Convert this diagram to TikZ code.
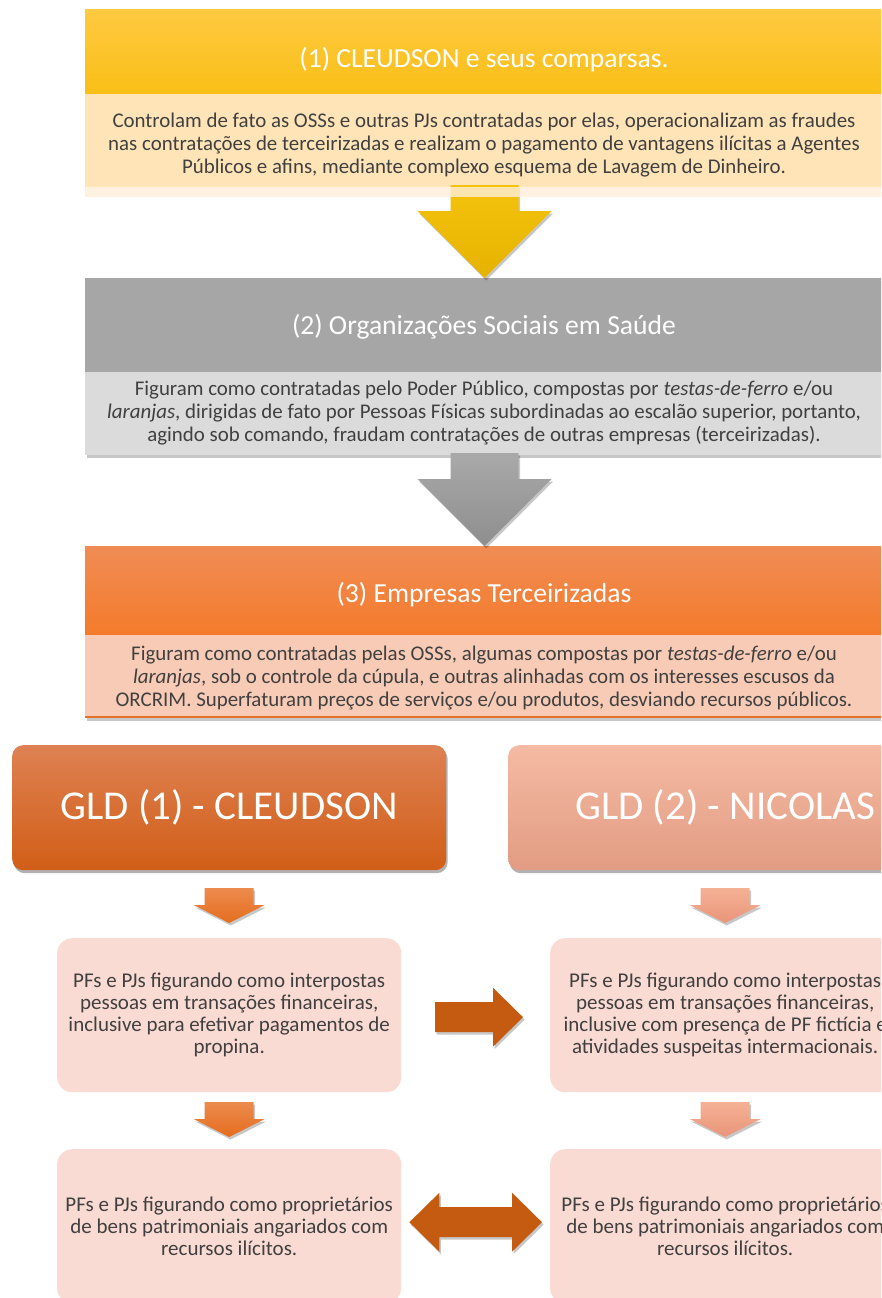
\documentclass[tikz,border=0pt]{standalone}
\usepackage{fontspec}
\setmainfont{Carlito}
\usetikzlibrary{calc,shadows}
\definecolor{hdrAtop}{HTML}{FFC940}
\definecolor{hdrAbot}{HTML}{F9BF17}
\definecolor{bodyA}{HTML}{FFE4B7}
\definecolor{reflA}{HTML}{FFEED8}
\definecolor{arrAtop}{HTML}{F4C30C}
\definecolor{arrAbot}{HTML}{E6B200}
\definecolor{hdrB}{HTML}{A6A6A6}
\definecolor{bodyB}{HTML}{DBDBDB}
\definecolor{arrBtop}{HTML}{A9A9A9}
\definecolor{arrBbot}{HTML}{8E8E8E}
\definecolor{hdrCtop}{HTML}{F08C55}
\definecolor{hdrCbot}{HTML}{F47B2B}
\definecolor{bodyC}{HTML}{F8CBB6}
\definecolor{lineC}{HTML}{E3712A}
\definecolor{gldAtop}{HTML}{DE8152}
\definecolor{gldAbot}{HTML}{D15E17}
\definecolor{gldBtop}{HTML}{F5BAA3}
\definecolor{gldBbot}{HTML}{E29C83}
\definecolor{saAtop}{HTML}{EC8B4E}
\definecolor{saAbot}{HTML}{E56D1E}
\definecolor{saBtop}{HTML}{F5B194}
\definecolor{saBbot}{HTML}{E9957A}
\definecolor{lbox}{HTML}{F9DBD3}
\definecolor{harrow}{HTML}{C55A11}
\definecolor{txt}{HTML}{404040}
\newcommand\blkdown[6]{%
  \path[#6] ($(#1)+(-#2,-#4)$) -- ($(#1)+(#2,-#4)$) -- ($(#1)+(#2,-#5)$)
    -- ($(#1)+(#3,-#5)$) -- (#1) -- ($(#1)+(-#3,-#5)$) -- ($(#1)+(-#2,-#5)$) -- cycle;}
\begin{document}
\begin{tikzpicture}[x=1pt,y=-1pt,
  band/.style={anchor=north west, inner sep=0pt, outer sep=0pt, draw=none},
  ttl/.style={anchor=base, text=white, font=\fontsize{27.6}{32}\selectfont},
  bodytxt/.style={align=center, text=txt, font=\fontsize{20.9}{23.2}\selectfont, inner sep=0pt},
  gld/.style={anchor=north west, rounded corners=11pt, minimum width=434pt, minimum height=125pt,
    text=white, font=\fontsize{41}{48}\selectfont, inner sep=0pt,
    drop shadow={shadow xshift=1.5pt, shadow yshift=-3pt, opacity=0.3, fill=black}},
  pbox/.style={anchor=north west, rounded corners=15pt, fill=lbox, minimum height=154pt,
    align=center, text=txt, font=\fontsize{21}{22}\selectfont, inner sep=0pt},
  shd/.style={drop shadow={shadow xshift=1.5pt, shadow yshift=-2.5pt, opacity=0.22, fill=black}},
]
\useasboundingbox (0,0) rectangle (881,1298);
\clip (0,0) rectangle (881,1298);

% ---- box 1
\node[band, shd, top color=hdrAtop, bottom color=hdrAbot, minimum width=799pt, minimum height=84pt] (h1) at (85,10) {};
\node[band, fill=bodyA, minimum width=799pt, minimum height=93pt] (b1) at (85,94) {};
\node[ttl] (t1) at (484,67) {(1) CLEUDSON e seus comparsas.};
\node[bodytxt] (x1) at (484,145) {Controlam de fato as OSSs e outras PJs contratadas por elas, operacionalizam as fraudes\\
nas contratações de terceirizadas e realizam o pagamento de vantagens ilícitas a Agentes\\
Públicos e afins, mediante complexo esquema de Lavagem de Dinheiro.};

% ---- box 2
\node[band, shd, fill=hdrB, minimum width=799pt, minimum height=94pt] (h2) at (85,278) {};
\node[band, shd, fill=bodyB, minimum width=799pt, minimum height=83pt] (b2) at (85,372) {};
\node[ttl] (t2) at (484,334) {(2) Organizações Sociais em Saúde};
\node[bodytxt] (x2) at (484,413) {Figuram como contratadas pelo Poder Público, compostas por \textit{testas-de-ferro} e/ou\\
\textit{laranjas}, dirigidas de fato por Pessoas Físicas subordinadas ao escalão superior, portanto,\\
agindo sob comando, fraudam contratações de outras empresas (terceirizadas).};

% ---- box 3
\node[band, shd, top color=hdrCtop, bottom color=hdrCbot, minimum width=799pt, minimum height=89pt] (h3) at (85,546) {};
\node[band, shd, fill=bodyC, minimum width=799pt, minimum height=83pt] (b3) at (85,635) {};
\fill[lineC] ($(b3.south west)+(0,-2.5)$) rectangle (b3.south east);
\node[ttl] (t3) at (484,602) {(3) Empresas Terceirizadas};
\node[bodytxt] (x3) at (484,678) {Figuram como contratadas pelas OSSs, algumas compostas por \textit{testas-de-ferro} e/ou\\
\textit{laranjas}, sob o controle da cúpula, e outras alinhadas com os interesses escusos da\\
ORCRIM. Superfaturam preços de serviços e/ou produtos, desviando recursos públicos.};

% ---- big down arrows
\blkdown{h2.north}{34}{67}{93}{67}{top color=arrAtop, bottom color=arrAbot, shd}
\fill[reflA, opacity=0.8] (b1.south west) rectangle ($(b1.south east)+(0,10)$);
\blkdown{h3.north}{34}{67}{93}{67}{top color=arrBtop, bottom color=arrBbot, shd}

% ---- GLD boxes
\node[gld, top color=gldAtop, bottom color=gldAbot] (g1) at (12,745) {GLD (1) - CLEUDSON};
\node[gld, top color=gldBtop, bottom color=gldBbot] (g2) at (508,745) {GLD (2) - NICOLAS};

% ---- pink boxes
\node[pbox, minimum width=344pt] (l1) at (57,938) {PFs e PJs figurando como interpostas\\pessoas em transações financeiras,\\inclusive para efetivar pagamentos de\\propina.};
\node[pbox, minimum width=350pt] (r1) at (550,938) {PFs e PJs figurando como interpostas\\pessoas em transações financeiras,\\inclusive com presença de PF fictícia e\\atividades suspeitas intermacionais.};
\node[pbox, minimum width=344pt] (l2) at (57,1149) {PFs e PJs figurando como proprietários\\de bens patrimoniais angariados com\\recursos ilícitos.};
\node[pbox, minimum width=350pt] (r2) at (550,1149) {PFs e PJs figurando como proprietários\\de bens patrimoniais angariados com\\recursos ilícitos.};

% ---- small down arrows
\coordinate (sa1) at ($(l1.north)+(0,-15)$);
\coordinate (sa2) at ($(r1.north)+(0,-15)$);
\coordinate (sa3) at ($(l2.north)+(0,-12)$);
\coordinate (sa4) at ($(r2.north)+(0,-12)$);
\blkdown{sa1}{24.5}{35.5}{35}{18}{top color=saAtop, bottom color=saAbot, shd}
\blkdown{sa2}{24.5}{35.5}{35}{18}{top color=saBtop, bottom color=saBbot, shd}
\blkdown{sa3}{24.5}{35.5}{35}{18}{top color=saAtop, bottom color=saAbot, shd}
\blkdown{sa4}{24.5}{35.5}{35}{18}{top color=saBtop, bottom color=saBbot, shd}

% ---- right arrow
\coordinate (ra) at ($(r1.west)+(-27,2)$);
\path[fill=harrow, shd] ($(ra)+(-88,-15)$) -- ($(ra)+(-30,-15)$) -- ($(ra)+(-30,-29.5)$) -- (ra)
  -- ($(ra)+(-30,29.5)$) -- ($(ra)+(-30,15)$) -- ($(ra)+(-88,15)$) -- cycle;

% ---- double arrow
\coordinate (da1) at ($(l2.east)+(8,-4)$);
\coordinate (da2) at ($(r2.west)+(-8,-4)$);
\path[fill=harrow, shd] (da1) -- ($(da1)+(30,-29.5)$) -- ($(da1)+(30,-15)$) -- ($(da2)+(-30,-15)$)
  -- ($(da2)+(-30,-29.5)$) -- (da2) -- ($(da2)+(-30,29.5)$) -- ($(da2)+(-30,15)$)
  -- ($(da1)+(30,15)$) -- ($(da1)+(30,29.5)$) -- cycle;
\end{tikzpicture}
\end{document}
